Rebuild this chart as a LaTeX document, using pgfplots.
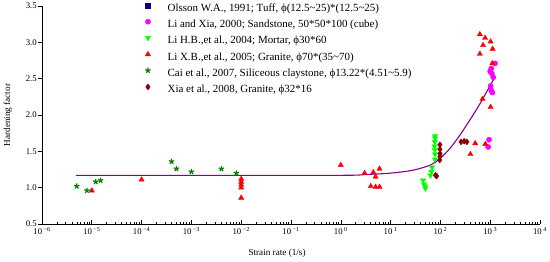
\documentclass[border=0pt]{standalone}
\usepackage{fontspec}
\setmainfont{Liberation Serif}
\usepackage{pgfplots}
\pgfplotsset{compat=1.18}
\definecolor{olsson}{HTML}{00008B}
\definecolor{lixia}{HTML}{FF00FF}
\definecolor{lihb}{HTML}{00FF00}
\definecolor{lixb}{HTML}{FF0000}
\definecolor{cai}{HTML}{008000}
\definecolor{xia}{HTML}{8B0000}
\definecolor{fitc}{HTML}{8B008B}
\begin{document}
\begin{tikzpicture}
\path[use as bounding box] (-42bp,-38bp) rectangle (508bp,224bp);
\begin{axis}[
  at={(0,0)}, anchor=south west,
  scale only axis, width=498bp, height=218bp,
  xmode=log, xmin=1e-6, xmax=1e4, ymin=0.5, ymax=3.5,
  axis x line*=bottom, axis y line*=left,
  axis line style={line width=0.8bp},
  xtick={1e-6,1e-5,1e-4,1e-3,1e-2,1e-1,1,1e1,1e2,1e3,1e4},
  xticklabels={10\,\textsuperscript{−6},10\,\textsuperscript{−5},10\,\textsuperscript{−4},10\,\textsuperscript{−3},10\,\textsuperscript{−2},10\,\textsuperscript{−1},10\,\textsuperscript{0},10\,\textsuperscript{1},10\,\textsuperscript{2},10\,\textsuperscript{3},10\,\textsuperscript{4}},
  ytick={0.5,1,1.5,2,2.5,3,3.5},
  yticklabel style={/pgf/number format/fixed, /pgf/number format/fixed zerofill, /pgf/number format/precision=1},
  /pgf/number format/assume math mode=true,
  ytick align=outside,
  major tick length=4bp, minor tick length=2bp,
  tick style={black, line width=0.6bp},
  tick label style={font=\fontsize{8.8}{9}\selectfont},
  xticklabel style={anchor=north, inner sep=0pt, yshift=-2.8bp},
  yticklabel style={anchor=east, inner sep=0pt, xshift=-1bp},
  label style={font=\fontsize{9.2}{10}\selectfont},
  xlabel={Strain rate (1/s)}, ylabel={Hardening factor},
  xlabel style={at={(axis description cs:0.472,0)}, anchor=center, yshift=-29bp},
  ylabel style={at={(axis description cs:-0.0683,0.5)}, anchor=center},
  legend style={at={(axis description cs:0.207,1.016)}, anchor=north west, draw=none, fill=none,
    inner sep=0pt, column sep=16bp, row sep=4.2bp,
    font=\fontsize{11}{12}\selectfont,
    nodes={inner sep=1bp, text height=7.5bp, text depth=2.5bp}},
  legend cell align=left,
  legend image code/.code={\draw[mark repeat=2,mark phase=2,#1] plot coordinates {(0bp,3.2bp) (6bp,3.2bp) (12bp,3.2bp)};},
  mark size=2.6bp,
]
% fitted curve
\addplot[fitc, line width=1.1bp, smooth, no marks, forget plot] coordinates {
(4.8e-6,1.17) (1e-3,1.17) (1,1.17) (3,1.18) (10,1.20) (28,1.24) (62,1.31) (98,1.40)
(155,1.54) (245,1.72) (390,1.93) (630,2.16) (850,2.32) (1150,2.48) (1260,2.53)};
% Olsson (legend only)
\addlegendimage{only marks, mark=square*, mark size=2.3bp, olsson, mark options={fill=olsson, draw=olsson}}
\addlegendentry{Olsson W.A., 1991; Tuff, ϕ(12.5\textasciitilde25)*(12.5\textasciitilde25)}
% Li and Xia
\addplot[only marks, mark=*, lixia, mark options={fill=lixia, draw=lixia}] coordinates {
(1250,2.71) (1050,2.64) (1000,2.60) (1080,2.57) (1150,2.52) (1020,2.40) (1050,2.34) (1100,2.31)
(950,1.66) (910,1.56)};
\addlegendentry{Li and Xia, 2000; Sandstone, 50*50*100 (cube)}
% Li H.B.
\addplot[only marks, mark=triangle*, mark options={rotate=180, fill=lihb, draw=lihb}, lihb, mark size=3bp] coordinates {
(78,1.71) (78,1.68) (77,1.63) (76,1.57) (77,1.52) (78,1.46) (78,1.39) (68,1.28) (66,1.22) (63,1.17)
(45,1.10) (47,1.05) (49,1.02) (50,0.99)};
\addlegendentry{Li H.B.,et al., 2004; Mortar, ϕ30*60}
% Li X.B.
\addplot[only marks, mark=triangle*, lixb, mark options={fill=lixb, draw=lixb}, mark size=3bp] coordinates {
(1e-5,0.96) (1e-4,1.11) (1e-2,1.12) (1e-2,1.08) (1e-2,1.04) (1e-2,1.00) (1e-2,0.86)
(1,1.31) (3,1.20) (4.5,1.21) (5,1.15) (6,1.26) (4,1.02) (5,1.01) (6,1.01)
(400,1.46) (500,1.61) (800,1.60) (700,2.22) (1020,2.11)
(620,3.11) (790,3.06) (720,2.96) (1020,3.01) (1120,2.91) (620,2.84) (1100,2.71)};
\addlegendentry{Li X.B.,et al., 2005; Granite, ϕ70*(35\textasciitilde70)}
% Cai
\addplot[only marks, mark=star, cai, mark options={draw=cai, fill=cai, line width=1.2bp}, mark size=2.8bp] coordinates {
(5e-6,1.02) (8e-6,0.96) (1.2e-5,1.08) (1.5e-5,1.10) (4e-4,1.36) (5e-4,1.26) (1e-3,1.22) (4e-3,1.26) (8e-3,1.20)};
\addlegendentry{Cai et al., 2007, Siliceous claystone, ϕ13.22*(4.51\textasciitilde5.9)}
% Xia
\addplot[only marks, mark=diamond*, xia, mark options={fill=xia, draw=xia}, mark size=3bp] coordinates {
(98,1.59) (98,1.53) (98,1.47) (98,1.43) (97,1.38) (80,1.17) (84,1.16) (260,1.63) (300,1.64) (340,1.63)};
\addlegendentry{Xia et al., 2008, Granite, ϕ32*16}
\end{axis}
\end{tikzpicture}
\end{document}
